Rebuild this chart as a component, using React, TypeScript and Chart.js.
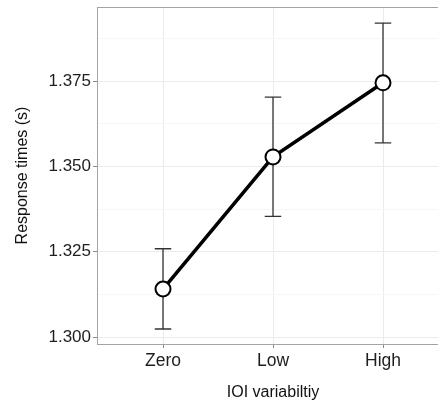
import { useEffect, useRef } from 'react';
import { Chart, registerables } from 'chart.js';

Chart.register(...registerables);

const categories = ['Zero', 'Low', 'High'];
const meanRT = [1.3141, 1.3528, 1.3745];
const lowerRT = [1.3024, 1.3354, 1.3569];
const upperRT = [1.3259, 1.3703, 1.392];
const yMajorTicks = [1.3, 1.325, 1.35, 1.375];
const yMinorTicks = [1.3125, 1.3375, 1.3625, 1.3875];
const yMin = 1.298;
const yMax = 1.3967;
const xMin = -0.6;
const xMax = 2.6;
const capWidth = 0.15;
const xTitle = 'IOI variabiltiy';
const yTitle = 'Response times (s)';

const FONT = '"Liberation Sans", Arial, Helvetica, sans-serif';

const isMajor = (v: number) => yMajorTicks.some((m) => Math.abs(m - v) < 1e-6);

export default function App() {
  const ref = useRef<HTMLCanvasElement | null>(null);

  useEffect(() => {
    document.body.style.margin = '0';
    document.body.style.overflow = 'hidden';
    const canvas = ref.current;
    if (!canvas) return;

    const panelPlugin = {
      id: 'panelAndErrors',
      beforeDatasetsDraw(chart: any) {
        const { ctx, chartArea, scales } = chart;
        const x = scales.x;
        const y = scales.y;
        ctx.save();
        ctx.strokeStyle = '#a3a3a3';
        ctx.lineWidth = 1;
        const l = Math.floor(chartArea.left) + 0.5;
        const t = Math.floor(chartArea.top) + 0.5;
        const r = Math.floor(chartArea.right) + 0.5;
        const b = Math.floor(chartArea.bottom) + 0.5;
        ctx.strokeRect(l, t, r - l, b - t);
        ctx.strokeStyle = '#333';
        ctx.lineWidth = 1.3;
        categories.forEach((_, i) => {
          const cx = x.getPixelForValue(i);
          const x0 = x.getPixelForValue(i - capWidth / 2);
          const x1 = x.getPixelForValue(i + capWidth / 2);
          const yl = y.getPixelForValue(lowerRT[i]);
          const yu = y.getPixelForValue(upperRT[i]);
          ctx.beginPath();
          ctx.moveTo(cx, yl);
          ctx.lineTo(cx, yu);
          ctx.moveTo(x0, yl);
          ctx.lineTo(x1, yl);
          ctx.moveTo(x0, yu);
          ctx.lineTo(x1, yu);
          ctx.stroke();
        });
        ctx.restore();
      },
      afterDraw(chart: any) {
        const { ctx, chartArea } = chart;
        ctx.save();
        ctx.fillStyle = '#111';
        ctx.font = `16px ${FONT}`;
        ctx.textAlign = 'center';
        ctx.textBaseline = 'alphabetic';
        ctx.fillText(xTitle, (chartArea.left + chartArea.right) / 2, 397);
        ctx.translate(27, (chartArea.top + chartArea.bottom) / 2);
        ctx.rotate(-Math.PI / 2);
        ctx.fillText(yTitle, 0, 0);
        ctx.restore();
      },
    };

    const chart = new Chart(canvas, {
      type: 'line',
      data: {
        datasets: [
          {
            data: meanRT.map((v, i) => ({ x: i, y: v })),
            borderColor: '#000',
            borderWidth: 3.5,
            pointRadius: 7.5,
            pointBorderWidth: 2,
            pointBackgroundColor: '#fff',
            pointBorderColor: '#000',
            tension: 0,
          },
        ],
      },
      options: {
        responsive: false,
        animation: false,
        devicePixelRatio: 1,
        layout: { autoPadding: false, padding: { left: 0, top: 7, right: 21, bottom: 0 } },
        plugins: { legend: { display: false }, tooltip: { enabled: false }, title: { display: false } },
        scales: {
          x: {
            type: 'linear',
            min: xMin,
            max: xMax,
            afterBuildTicks: (scale: any) => {
              scale.ticks = categories.map((_, i) => ({ value: i }));
            },
            afterFit: (scale: any) => {
              scale.height = 59;
              scale.paddingLeft = 0;
              scale.paddingRight = 0;
            },
            border: { display: false },
            grid: {
              color: '#ebebeb',
              lineWidth: 1,
              drawTicks: true,
              tickLength: 4,
              tickColor: '#8a8a8a',
            },
            ticks: {
              autoSkip: false,
              maxRotation: 0,
              padding: 3,
              color: '#1e1e1e',
              font: { family: FONT, size: 17.5 },
              callback: (v: any) => categories[Math.round(Number(v))] ?? '',
            },
          },
          y: {
            type: 'linear',
            min: yMin,
            max: yMax,
            afterBuildTicks: (scale: any) => {
              scale.ticks = [...yMajorTicks, ...yMinorTicks]
                .sort((a, b) => a - b)
                .map((v) => ({ value: v }));
            },
            afterFit: (scale: any) => {
              scale.width = 97;
              scale.paddingTop = 0;
              scale.paddingBottom = 0;
            },
            border: { display: false },
            grid: {
              color: (ctx: any) => (ctx.tick && isMajor(ctx.tick.value) ? '#ebebeb' : '#f6f6f6'),
              lineWidth: 1,
              drawTicks: true,
              tickLength: 4,
              tickColor: (ctx: any) => (ctx.tick && isMajor(ctx.tick.value) ? '#8a8a8a' : 'rgba(0,0,0,0)'),
            },
            ticks: {
              autoSkip: false,
              padding: 2,
              color: '#1e1e1e',
              font: { family: FONT, size: 17 },
              callback: (v: any) => (isMajor(Number(v)) ? Number(v).toFixed(3) : ''),
            },
          },
        },
      },
      plugins: [panelPlugin],
    } as any);

    return () => chart.destroy();
  }, []);

  return (
    <div style={{ width: 438, height: 403, overflow: 'hidden', position: 'relative' }}>
      <canvas ref={ref} width={470} height={403} style={{ width: 470, height: 403, display: 'block' }} />
    </div>
  );
}
